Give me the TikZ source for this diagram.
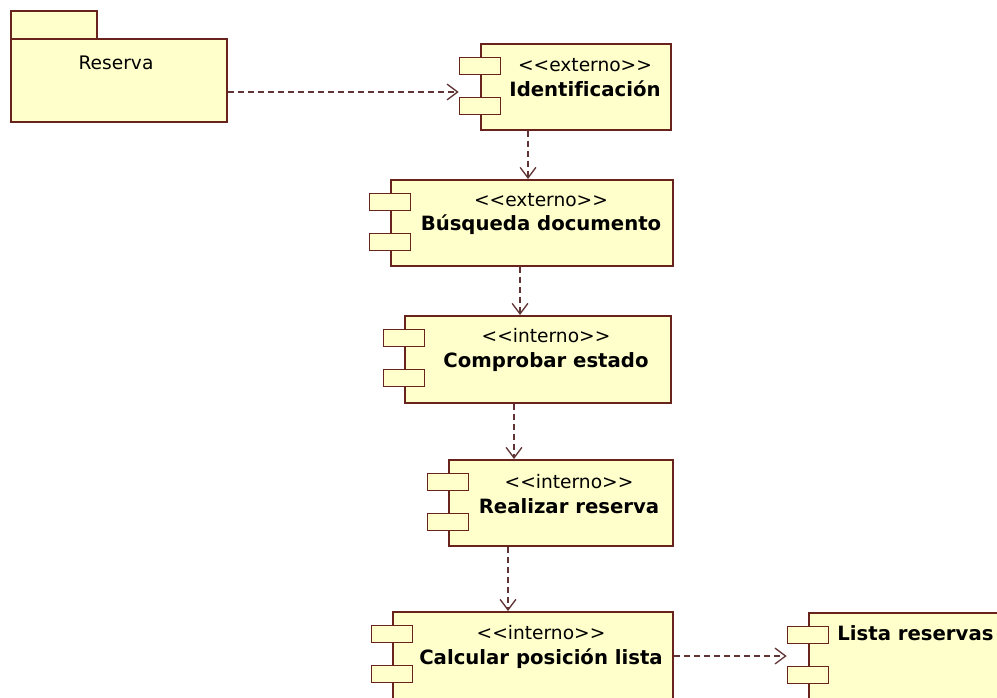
\documentclass[tikz,border=0pt]{standalone}
\usepackage{fontspec}
\setmainfont{DejaVu Sans}[Ligatures=NoCommon]
\usetikzlibrary{arrows.meta}
\definecolor{umlfill}{RGB}{255,255,204}
\definecolor{umlline}{RGB}{104,36,28}
\definecolor{depline}{RGB}{96,52,52}
\newcommand\ster[1]{<\kern0pt<#1>\kern0pt>}
\newcommand\nm[1]{{\fontsize{11.2}{14.2}\selectfont\bfseries #1}}

\begin{document}
\begin{tikzpicture}[x=0.02cm, y=-0.02cm]
    \tikzstyle{comp}=[rectangle, draw=umlline, fill=umlfill, line width=0.95pt,
                            inner sep=0pt, anchor=north west, minimum height=1.72cm]
    \tikzstyle{port}=[rectangle, draw=umlline, fill=umlfill, line width=0.95pt,
                            inner sep=0pt, minimum width=0.82cm, minimum height=0.34cm]
    \tikzstyle{txt}=[align=center, inner sep=0pt, font=\fontsize{10.6}{14.2}\selectfont]
    \tikzstyle{dep}=[draw=depline, line width=0.75pt, dash pattern=on 3.4pt off 2.3pt,
                            -{Straight Barb[length=6pt, width=9pt]}]
    \useasboundingbox (0,0) rectangle (997,697);
    \clip (0,0) rectangle (997,697);

    % paquete
    \node[comp, minimum width=1.72cm, minimum height=0.56cm] (reserva-tab) at (10,10) {};
    \node[comp, minimum width=4.32cm, minimum height=1.66cm] (reserva) at (10,38) {};
    \node[txt] (reserva-txt) at (116,63) {Reserva};

    % componentes
    \node[comp, minimum width=3.8cm] (ident) at (480,43) {};
    \node[comp, minimum width=5.64cm] (busq) at (390,179) {};
    \node[comp, minimum width=5.32cm, minimum height=1.74cm] (compr) at (404,315) {};
    \node[comp, minimum width=4.48cm] (realiz) at (448,459) {};
    \node[comp, minimum width=5.6cm, minimum height=2cm] (calc) at (392,611) {};
    \node[comp, minimum width=6cm, minimum height=2cm] (lista) at (808,612) {};

    \foreach \c in {ident,busq,compr,realiz,calc,lista} {
        \node[port] (\c-p1) at ([yshift=-0.46cm]\c.north west) {};
        \node[port] (\c-p2) at ([yshift=-1.26cm]\c.north west) {};
    }

    \node[txt] (ident-txt) at (585,78) {\ster{externo}\\\nm{Identificación}};
    \node[txt] (busq-txt) at (541,214) {\ster{externo}\\\nm{Búsqueda documento}};
    \node[txt] (compr-txt) at (546,350) {\ster{interno}\\\nm{Comprobar estado}};
    \node[txt] (realiz-txt) at (569,494) {\ster{interno}\\\nm{Realizar reserva}};
    \node[txt] (calc-txt) at (541,647) {\ster{interno}\\\nm{Calcular posición lista}};
    \node[txt, anchor=west] (lista-txt) at (837,633) {\nm{Lista reservas}};

    % dependencias
    \draw[dep] (reserva.east |- 0,92) -- (ident-p2.west |- 0,92);
    \draw[dep] (ident.south -| 528,0) -- (busq.north -| 528,0);
    \draw[dep] (busq.south -| 520,0) -- (compr.north -| 520,0);
    \draw[dep] (compr.south -| 514,0) -- (realiz.north -| 514,0);
    \draw[dep] (realiz.south -| 508,0) -- (calc.north -| 508,0);
    \draw[dep] (calc.east |- 0,656) -- (lista-p2.west |- 0,656);
\end{tikzpicture}
\end{document}
